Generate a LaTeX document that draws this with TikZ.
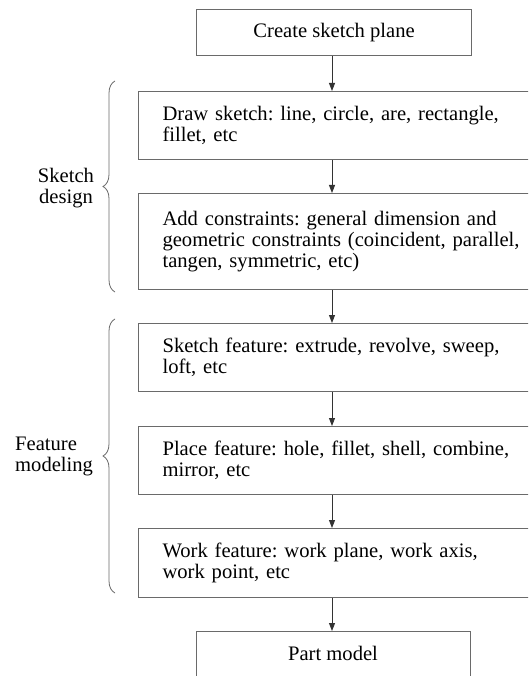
\documentclass[tikz,border=0pt]{standalone}
\usepackage{fontspec}
\setmainfont{Liberation Serif}
\usetikzlibrary{arrows.meta,decorations.pathreplacing}
\definecolor{boxgray}{HTML}{6A6A6A}
\definecolor{arrgray}{HTML}{333333}
\frenchspacing
\begin{document}
\begin{tikzpicture}[x=1pt,y=-1pt,
  txt/.style={font=\fontsize{20.6}{21}\selectfont},
  cbox/.style={txt, draw=boxgray, line width=1.1pt, anchor=north west, inner sep=0pt, align=center},
  wbox/.style={txt, draw=boxgray, line width=1.1pt, anchor=north west, inner xsep=24pt, inner ysep=0pt,
     text width=380pt, align=left, minimum width=428pt},
  arr/.style={draw=arrgray, line width=0.9pt, -{Triangle[length=8pt,width=6pt]}},
  brc/.style={draw=boxgray, line width=0.8pt, decorate, decoration={brace, amplitude=12pt}},
  lab/.style={txt, align=left, inner sep=0pt}]
\useasboundingbox (0,0) rectangle (528,676);
\clip (0,0) rectangle (528,676);
\fill[white] (0,0) rectangle (528,676);
\node[cbox, minimum width=275pt, minimum height=46pt] (n1) at (196,9) {Create sketch plane};
\node[wbox, minimum height=68pt] (n2) at (138,91) {Draw sketch: line, circle, are, rectangle,\\fillet, etc};
\node[wbox, minimum height=96pt] (n3) at (138,193) {Add constraints: general dimension and\\geometric constraints (coincident, parallel,\\tangen, symmetric, etc)};
\node[wbox, minimum height=68pt] (n4) at (138,323) {Sketch feature: extrude, revolve, sweep,\\loft, etc};
\node[wbox, minimum height=68pt] (n5) at (138,426) {Place feature: hole, fillet, shell, combine,\\mirror, etc};
\node[wbox, minimum height=69pt] (n6) at (138,528) {Work feature: work plane, work axis,\\work point, etc};
\node[cbox, minimum width=274pt, minimum height=46pt, anchor=north west] (n7) at (196,631) {};
\node[txt, inner sep=0pt] (t7) at (333,653) {Part model};
\coordinate (ax) at (332,0);
\draw[arr] (ax |- n1.south) -- (ax |- n2.north);
\draw[arr] (ax |- n2.south) -- (ax |- n3.north);
\draw[arr] (ax |- n3.south) -- (ax |- n4.north);
\draw[arr] (ax |- n4.south) -- (ax |- n5.north);
\draw[arr] (ax |- n5.south) -- (ax |- n6.north);
\draw[arr] (ax |- n6.south) -- (ax |- n7.north);
\draw[brc] (115,292) -- (115,81);
\draw[brc] (115,593) -- (115,319);
\node[lab, align=center] (l1) at (66,188) {Sketch\\design};
\node[lab, anchor=west] (l2) at (15,456) {Feature\\modeling};
\end{tikzpicture}
\end{document}
